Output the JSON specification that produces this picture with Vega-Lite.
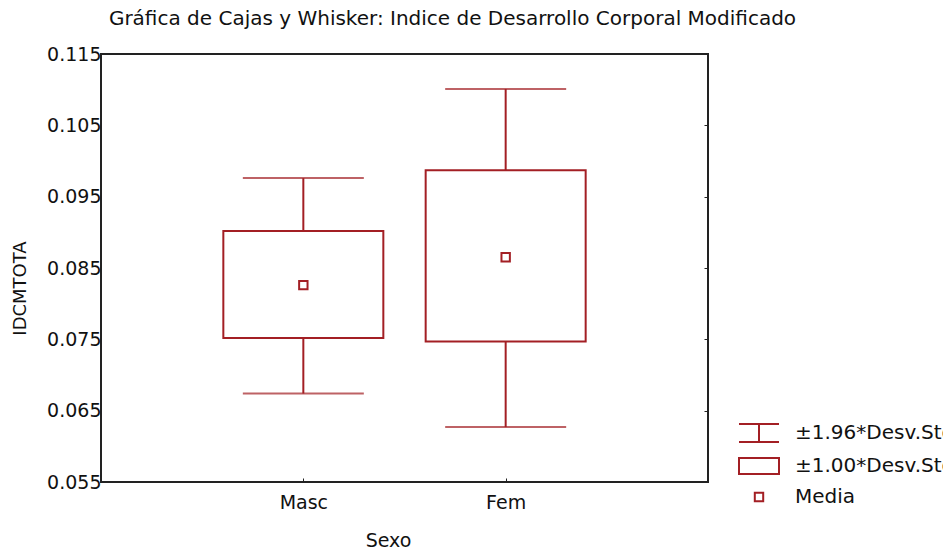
{
  "$schema": "https://vega.github.io/schema/vega-lite/v6.json",
  "width": 607,
  "height": 428,
  "autosize": {"type": "none"},
  "padding": {"left": 101, "top": 54, "right": 235, "bottom": 68},
  "background": "white",
  "config": {
    "view": {"stroke": "#222222", "strokeWidth": 2},
    "font": "DejaVu Sans",
    "axis": {"grid": false, "domain": false, "labelColor": "#111111", "titleColor": "#111111", "labelFont": "DejaVu Sans", "titleFont": "DejaVu Sans", "titleFontWeight": "normal", "tickColor": "#222222"}
  },
  "title": {
    "text": "Gráfica de Cajas y Whisker: Indice de Desarrollo Corporal Modificado",
    "font": "DejaVu Sans",
    "fontSize": 20,
    "fontWeight": "normal",
    "color": "#111111",
    "dx": 48,
    "offset": 16
  },
  "data": {
    "values": [
      {"Sexo": "Masc", "Media": 0.0826, "Lo1": 0.0752, "Hi1": 0.0902, "Lo196": 0.0674, "Hi196": 0.0976},
      {"Sexo": "Fem", "Media": 0.0865, "Lo1": 0.0747, "Hi1": 0.0987, "Lo196": 0.0627, "Hi196": 0.1101}
    ]
  },
  "encoding": {
    "x": {
      "field": "Sexo",
      "type": "nominal",
      "sort": ["Masc", "Fem"],
      "scale": {"type": "point", "padding": 1},
      "axis": {
        "title": "Sexo",
        "labelAngle": 0,
        "labelFontSize": 19,
        "labelPadding": 15,
        "tickSize": -4,
        "ticks": true,
        "titleFontSize": 19,
        "titleX": 287,
        "titleY": 58,
        "titleAlign": "center",
        "titleBaseline": "middle"
      }
    }
  },
  "resolve": {"axis": {"y": "independent"}},
  "layer": [
    {
      "mark": {"type": "rule", "color": "#a31f24", "strokeWidth": 2},
      "encoding": {
        "y": {
          "field": "Hi196",
          "type": "quantitative",
          "scale": {"domain": [0.055, 0.115], "nice": false, "zero": false},
          "axis": {
            "orient": "left",
            "values": [0.055, 0.065, 0.075, 0.085, 0.095, 0.105, 0.115],
            "format": ".3f",
            "labelFontSize": 19,
            "labelPadding": 0,
            "ticks": false,
            "title": "IDCMTOTA",
            "titleFontSize": 18,
            "titleX": -81,
            "titleY": 234,
            "titleAngle": -90,
            "titleAlign": "center",
            "titleBaseline": "middle"
          }
        },
        "y2": {"field": "Hi1"}
      }
    },
    {
      "mark": {"type": "rule", "color": "#a31f24", "strokeWidth": 2},
      "encoding": {
        "y": {
          "field": "Lo1",
          "type": "quantitative",
          "axis": {
            "orient": "right",
            "values": [0.065, 0.075, 0.085, 0.095, 0.105],
            "labels": false,
            "ticks": true,
            "tickSize": -4,
            "title": null
          }
        },
        "y2": {"field": "Lo196"}
      }
    },
    {
      "mark": {"type": "tick", "color": "#a31f24", "thickness": 2, "size": 121, "orient": "horizontal"},
      "encoding": {"y": {"field": "Hi196", "type": "quantitative", "axis": null}}
    },
    {
      "mark": {"type": "tick", "color": "#a31f24", "thickness": 2, "size": 121, "orient": "horizontal"},
      "encoding": {"y": {"field": "Lo196", "type": "quantitative", "axis": null}}
    },
    {
      "mark": {"type": "bar", "size": 160, "fill": "white", "fillOpacity": 0, "stroke": "#a31f24", "strokeWidth": 2},
      "encoding": {
        "y": {"field": "Lo1", "type": "quantitative", "axis": null},
        "y2": {"field": "Hi1"}
      }
    },
    {
      "mark": {"type": "point", "filled": false, "color": "#a31f24", "strokeWidth": 2, "size": 400, "opacity": 1},
      "encoding": {
        "y": {"field": "Media", "type": "quantitative", "axis": null},
        "shape": {
          "datum": "Media",
          "type": "nominal",
          "scale": {
            "domain": ["±1.96*Desv.Std.", "±1.00*Desv.Std.", "Media"],
            "range": [
              "M-2,-0.9H2M0,-0.9V0.9M-2,0.9H2",
              "M-2,-0.8H2V0.8H-2Z",
              "M-0.42,-0.42H0.42V0.42H-0.42Z"
            ]
          },
          "legend": {
            "title": null,
            "orient": "none",
            "legendX": 647,
            "legendY": 368,
            "symbolSize": 400,
            "symbolStrokeColor": "#a31f24",
            "symbolFillColor": "transparent",
            "symbolStrokeWidth": 2,
            "labelFontSize": 20,
            "labelFont": "DejaVu Sans",
            "labelColor": "#111111",
            "labelOffset": 25,
            "rowPadding": 8,
            "labelLimit": 400
          }
        }
      }
    }
  ]
}
